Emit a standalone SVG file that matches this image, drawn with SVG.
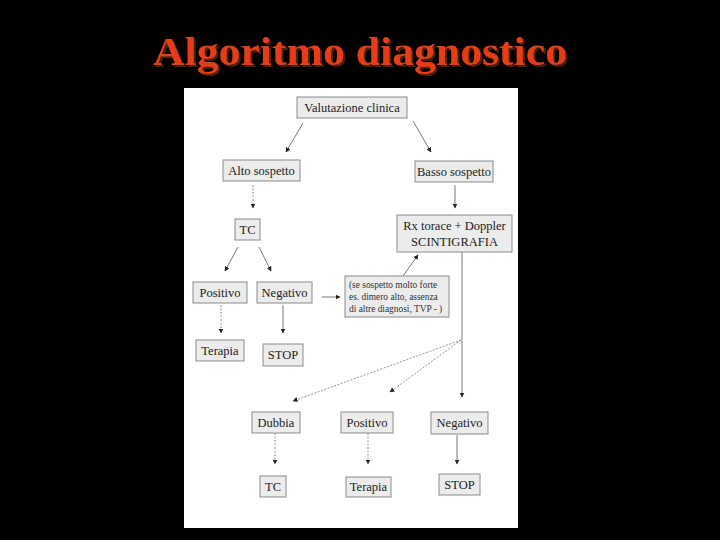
<svg xmlns="http://www.w3.org/2000/svg" width="720" height="540" viewBox="0 0 720 540">
<defs>
<marker id="ah" viewBox="0 0 10 10" refX="9" refY="5" markerWidth="5" markerHeight="5" orient="auto" markerUnits="userSpaceOnUse"><path d="M0,0 L10,5 L0,10 z" fill="#222"/></marker>
<filter id="sh" x="-5%" y="-20%" width="110%" height="140%">
<feFlood flood-color="#4a2410"/>
<feComposite in2="SourceAlpha" operator="in"/>
<feOffset dx="2" dy="2" result="s"/>
<feMerge><feMergeNode in="s"/><feMergeNode in="SourceGraphic"/></feMerge>
</filter>
<style>
.box{fill:#ececec;stroke:#8a8a8a;stroke-width:1}
.t{font-family:"Liberation Serif","Times New Roman",serif;font-size:12.5px;fill:#222;text-anchor:middle}
.n{font-family:"Liberation Serif","Times New Roman",serif;font-size:9.4px;fill:#333}
.c{fill:none;stroke:#555;stroke-width:0.8;marker-end:url(#ah)}
.d{stroke-dasharray:2 1.5;stroke:#777}
.title{font-family:"Liberation Serif","Times New Roman",serif;font-weight:bold;font-size:41px;text-anchor:middle}
</style>
</defs>
<rect x="0" y="0" width="720" height="540" fill="#000"/>
<text class="title" x="360" y="65" fill="#e63c18" filter="url(#sh)" textLength="414" lengthAdjust="spacingAndGlyphs">Algoritmo diagnostico</text>
<rect x="184" y="88" width="334" height="440" fill="#fff"/>
<g id="connectors">
<line class="c" x1="303" y1="123" x2="286" y2="152"/>
<line class="c" x1="413" y1="121" x2="431" y2="152"/>
<line class="c d" x1="253" y1="185" x2="253" y2="208"/>
<line class="c" x1="455" y1="185" x2="455" y2="208"/>
<line class="c" x1="238" y1="247" x2="225" y2="271"/>
<line class="c" x1="259" y1="247" x2="271" y2="271"/>
<line class="c d" x1="221" y1="305" x2="221" y2="333"/>
<line class="c" x1="283" y1="305" x2="283" y2="333"/>
<line class="c" x1="322" y1="297" x2="340" y2="297"/>
<line class="c" x1="403" y1="276" x2="418" y2="255"/>
<line class="c" x1="462" y1="252" x2="462" y2="397"/>
<line class="c d" x1="461" y1="340" x2="293" y2="401"/>
<line class="c d" x1="461" y1="340" x2="390" y2="392"/>
<line class="c d" x1="275" y1="433" x2="275" y2="464"/>
<line class="c d" x1="368" y1="433" x2="368" y2="464"/>
<line class="c" x1="457" y1="435" x2="457" y2="464"/>
</g>
<g id="valutazione"><rect class="box" x="297" y="97" width="110" height="21"/><text class="t" x="352" y="112">Valutazione clinica</text></g>
<g id="alto"><rect class="box" x="223" y="160" width="77" height="21"/><text class="t" x="261.5" y="175">Alto sospetto</text></g>
<g id="basso"><rect class="box" x="415" y="161" width="78" height="21"/><text class="t" x="454" y="176">Basso sospetto</text></g>
<g id="tc1"><rect class="box" x="235" y="219" width="25" height="21"/><text class="t" x="247.5" y="234">TC</text></g>
<g id="rx"><rect class="box" x="397" y="215" width="115" height="37"/><text class="t" x="454.5" y="230">Rx torace + Doppler</text><text class="t" x="454.5" y="246">SCINTIGRAFIA</text></g>
<g id="positivo1"><rect class="box" x="193" y="282" width="54" height="21"/><text class="t" x="220" y="297">Positivo</text></g>
<g id="negativo1"><rect class="box" x="257" y="282" width="55" height="21"/><text class="t" x="284.5" y="297">Negativo</text></g>
<g id="nota"><rect class="box" x="345" y="276" width="104" height="41"/><text class="n" x="349" y="288">(se sospetto molto forte</text><text class="n" x="349" y="300">es. dimero alto, assenza</text><text class="n" x="349" y="312">di altre diagnosi, TVP - )</text></g>
<g id="terapia1"><rect class="box" x="196" y="340" width="48" height="21"/><text class="t" x="220" y="355">Terapia</text></g>
<g id="stop1"><rect class="box" x="263" y="344" width="40" height="22"/><text class="t" x="283" y="359">STOP</text></g>
<g id="dubbia"><rect class="box" x="252" y="412" width="48" height="21"/><text class="t" x="276" y="427">Dubbia</text></g>
<g id="positivo2"><rect class="box" x="341" y="412" width="52" height="21"/><text class="t" x="367" y="427">Positivo</text></g>
<g id="negativo2"><rect class="box" x="431" y="412" width="57" height="22"/><text class="t" x="459.5" y="427">Negativo</text></g>
<g id="tc2"><rect class="box" x="260" y="476" width="26" height="21"/><text class="t" x="273" y="491">TC</text></g>
<g id="terapia2"><rect class="box" x="346" y="477" width="45" height="20"/><text class="t" x="368.5" y="491">Terapia</text></g>
<g id="stop2"><rect class="box" x="439" y="474" width="41" height="21"/><text class="t" x="459.5" y="489">STOP</text></g>
</svg>
